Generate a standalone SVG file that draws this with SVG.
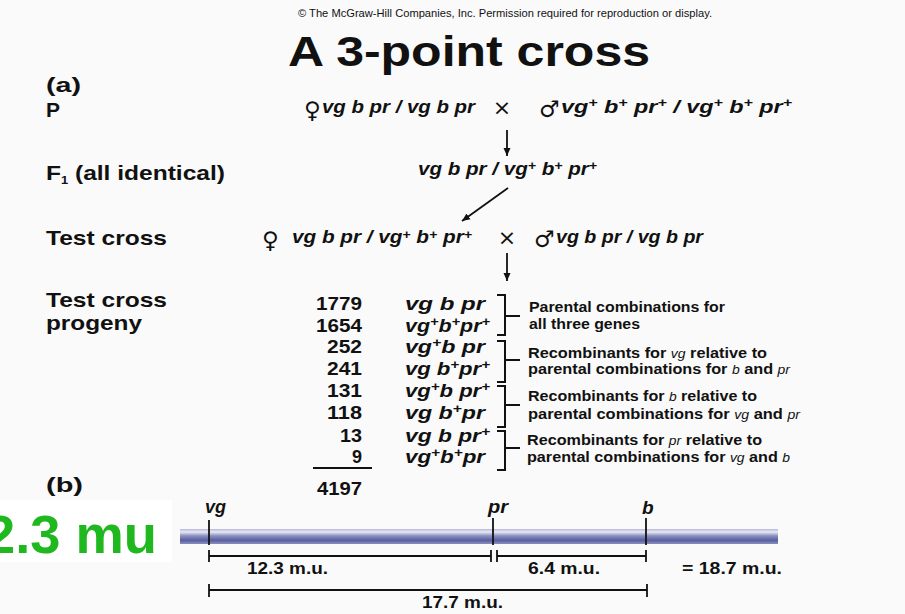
<svg xmlns="http://www.w3.org/2000/svg" width="905" height="614" viewBox="0 0 905 614">
<defs>
<style>
.t{font-family:"Liberation Sans",Arial,sans-serif;fill:#111;}
.b{font-weight:bold;}
.lab{font-family:"Liberation Sans",Arial,sans-serif;font-weight:bold;font-size:21px;fill:#111;}
.gt{font-family:"Liberation Sans",Arial,sans-serif;font-weight:bold;font-style:italic;font-size:19px;fill:#111;}
.num{font-family:"Liberation Sans",Arial,sans-serif;font-weight:bold;font-size:18px;fill:#111;text-anchor:end;}
.note{font-family:"Liberation Sans",Arial,sans-serif;font-weight:bold;font-size:14px;fill:#111;}
.gi{font-style:italic;font-weight:normal;font-size:12px;}
.sym{font-family:"DejaVu Sans",sans-serif;font-size:23px;fill:#111;}
.x{font-family:"DejaVu Sans",sans-serif;font-size:22px;fill:#111;text-anchor:middle;}
.ln{stroke:#111;stroke-width:1.8;fill:none;}
.br{stroke:#111;stroke-width:2;fill:none;}
.mu{font-family:"Liberation Sans",Arial,sans-serif;font-weight:bold;font-size:16px;fill:#111;}
</style>
<marker id="ah" markerWidth="8" markerHeight="8" refX="8" refY="4" orient="auto" markerUnits="userSpaceOnUse">
<path d="M0,0.5 L8,4 L0,7.5 z" fill="#111"/>
</marker>
<linearGradient id="chr" x1="0" y1="0" x2="0" y2="1">
<stop offset="0" stop-color="#b4b8da"/>
<stop offset="0.2" stop-color="#e8e9f4"/>
<stop offset="0.45" stop-color="#8c92c2"/>
<stop offset="0.75" stop-color="#585e9c"/>
<stop offset="1" stop-color="#8a90c0"/>
</linearGradient>
</defs>
<rect width="905" height="614" fill="#fafafa"/>
<rect x="0" y="500" width="172" height="62" fill="#ffffff"/>

<g id="header">
<text class="t" x="298" y="17" font-size="11" textLength="414" lengthAdjust="spacingAndGlyphs">© The McGraw-Hill Companies, Inc.  Permission required for reproduction or display.</text>
<text class="t b" x="288" y="66" font-size="42" textLength="362" lengthAdjust="spacingAndGlyphs">A 3-point cross</text>
</g>

<g id="row-labels">
<text class="lab" x="46" y="92" textLength="35" lengthAdjust="spacingAndGlyphs">(a)</text>
<text class="lab" x="46" y="117">P</text>
<text class="lab" x="46" y="180" textLength="179" lengthAdjust="spacingAndGlyphs">F<tspan font-size="11" dy="4">1</tspan><tspan dy="-4"> (all identical)</tspan></text>
<text class="lab" x="46" y="245" textLength="121" lengthAdjust="spacingAndGlyphs">Test cross</text>
<text class="lab" x="46" y="307" textLength="121" lengthAdjust="spacingAndGlyphs">Test cross</text>
<text class="lab" x="46" y="330" textLength="96" lengthAdjust="spacingAndGlyphs">progeny</text>
<text class="lab" x="46" y="492" textLength="37" lengthAdjust="spacingAndGlyphs">(b)</text>
</g>

<g id="parents">
<text class="sym" x="304" y="118">♀</text>
<text class="gt" x="322" y="113" textLength="153" lengthAdjust="spacingAndGlyphs">vg b pr / vg b pr</text>
<text class="x" x="502" y="115">×</text>
<text class="sym" x="539" y="117">♂</text>
<text class="gt" x="561" y="113" textLength="231" lengthAdjust="spacingAndGlyphs">vg<tspan font-size="13" dy="-6">+</tspan><tspan dy="6"> b</tspan><tspan font-size="13" dy="-6">+</tspan><tspan dy="6"> pr</tspan><tspan font-size="13" dy="-6">+</tspan><tspan dy="6"> / vg</tspan><tspan font-size="13" dy="-6">+</tspan><tspan dy="6"> b</tspan><tspan font-size="13" dy="-6">+</tspan><tspan dy="6"> pr</tspan><tspan font-size="13" dy="-6">+</tspan></text>
</g>

<g id="f1">
<text class="gt" x="418" y="175" textLength="179" lengthAdjust="spacingAndGlyphs">vg b pr / vg<tspan font-size="13" dy="-5">+</tspan><tspan dy="5"> b</tspan><tspan font-size="13" dy="-5">+</tspan><tspan dy="5"> pr</tspan><tspan font-size="13" dy="-5">+</tspan></text>
</g>

<g id="testcross">
<text class="sym" x="262" y="248">♀</text>
<text class="gt" x="292" y="243" textLength="180" lengthAdjust="spacingAndGlyphs">vg b pr / vg<tspan font-size="13" dy="-4">+</tspan><tspan dy="4"> b</tspan><tspan font-size="13" dy="-4">+</tspan><tspan dy="4"> pr</tspan><tspan font-size="13" dy="-4">+</tspan></text>
<text class="x" x="507" y="245">×</text>
<text class="sym" x="534" y="247">♂</text>
<text class="gt" x="556" y="243" textLength="147" lengthAdjust="spacingAndGlyphs">vg b pr / vg b pr</text>
</g>

<g id="connectors">
<line class="ln" x1="507" y1="130" x2="507" y2="156" marker-end="url(#ah)"/>
<line class="ln" x1="508" y1="188" x2="462" y2="221" marker-end="url(#ah)"/>
<line class="ln" x1="507" y1="253" x2="507" y2="281" marker-end="url(#ah)"/>
</g>

<g id="progeny">
<text class="num" x="362" y="310" textLength="46" lengthAdjust="spacingAndGlyphs">1779</text>
<text class="num" x="362" y="332" textLength="46" lengthAdjust="spacingAndGlyphs">1654</text>
<text class="num" x="362" y="353" textLength="35" lengthAdjust="spacingAndGlyphs">252</text>
<text class="num" x="362" y="375" textLength="35" lengthAdjust="spacingAndGlyphs">241</text>
<text class="num" x="362" y="397" textLength="35" lengthAdjust="spacingAndGlyphs">131</text>
<text class="num" x="362" y="419" textLength="35" lengthAdjust="spacingAndGlyphs">118</text>
<text class="num" x="362" y="442" textLength="22" lengthAdjust="spacingAndGlyphs">13</text>
<text class="num" x="362" y="463">9</text>
<line class="ln" x1="313" y1="468" x2="372" y2="468"/>
<text class="num" x="362" y="495" textLength="45" lengthAdjust="spacingAndGlyphs">4197</text>

<text class="gt" x="405" y="310" textLength="80" lengthAdjust="spacingAndGlyphs">vg  b  pr</text>
<text class="gt" x="405" y="332" textLength="85" lengthAdjust="spacingAndGlyphs">vg<tspan font-size="13" dy="-6">+</tspan><tspan dy="6">b</tspan><tspan font-size="13" dy="-6">+</tspan><tspan dy="6">pr</tspan><tspan font-size="13" dy="-6">+</tspan></text>
<text class="gt" x="405" y="353" textLength="80" lengthAdjust="spacingAndGlyphs">vg<tspan font-size="13" dy="-6">+</tspan><tspan dy="6">b  pr</tspan></text>
<text class="gt" x="405" y="375" textLength="85" lengthAdjust="spacingAndGlyphs">vg  b<tspan font-size="13" dy="-6">+</tspan><tspan dy="6">pr</tspan><tspan font-size="13" dy="-6">+</tspan></text>
<text class="gt" x="405" y="397" textLength="85" lengthAdjust="spacingAndGlyphs">vg<tspan font-size="13" dy="-6">+</tspan><tspan dy="6">b  pr</tspan><tspan font-size="13" dy="-6">+</tspan></text>
<text class="gt" x="405" y="419" textLength="80" lengthAdjust="spacingAndGlyphs">vg  b<tspan font-size="13" dy="-6">+</tspan><tspan dy="6">pr</tspan></text>
<text class="gt" x="405" y="442" textLength="85" lengthAdjust="spacingAndGlyphs">vg  b  pr<tspan font-size="13" dy="-6">+</tspan></text>
<text class="gt" x="405" y="463" textLength="80" lengthAdjust="spacingAndGlyphs">vg<tspan font-size="13" dy="-6">+</tspan><tspan dy="6">b</tspan><tspan font-size="13" dy="-6">+</tspan><tspan dy="6">pr</tspan></text>
</g>

<g id="brackets">
<path class="br" d="M497,295 H505 V335 H497 M505,316 H520"/>
<path class="br" d="M497,341 H505 V382 H497 M505,360 H520"/>
<path class="br" d="M497,386 H505 V427 H497 M505,405 H520"/>
<path class="br" d="M497,431 H505 V470 H497 M505,448 H520"/>
</g>

<g id="bracket-notes">
<text class="note" x="529" y="312" textLength="196" lengthAdjust="spacingAndGlyphs">Parental combinations for</text>
<text class="note" x="529" y="329" textLength="111" lengthAdjust="spacingAndGlyphs">all three genes</text>
<text class="note" x="528" y="358" textLength="239" lengthAdjust="spacingAndGlyphs">Recombinants for <tspan class="gi">vg</tspan> relative to</text>
<text class="note" x="528" y="374" textLength="262" lengthAdjust="spacingAndGlyphs">parental combinations for <tspan class="gi">b</tspan> and <tspan class="gi">pr</tspan></text>
<text class="note" x="528" y="401" textLength="229" lengthAdjust="spacingAndGlyphs">Recombinants for <tspan class="gi">b</tspan> relative to</text>
<text class="note" x="528" y="419" textLength="272" lengthAdjust="spacingAndGlyphs">parental combinations for <tspan class="gi">vg</tspan>  and <tspan class="gi">pr</tspan></text>
<text class="note" x="527" y="445" textLength="235" lengthAdjust="spacingAndGlyphs">Recombinants for <tspan class="gi">pr</tspan> relative to</text>
<text class="note" x="527" y="462" textLength="263" lengthAdjust="spacingAndGlyphs">parental combinations for <tspan class="gi">vg</tspan>  and <tspan class="gi">b</tspan></text>
</g>

<g id="map">
<rect x="180" y="529" width="598" height="15" fill="url(#chr)"/>
<line class="ln" x1="209" y1="520" x2="209" y2="545"/>
<line class="ln" x1="493" y1="518" x2="493" y2="545"/>
<line class="ln" x1="646" y1="518" x2="646" y2="545"/>
<text class="gt" x="205" y="513" font-size="16" textLength="21" lengthAdjust="spacingAndGlyphs">vg</text>
<text class="gt" x="488" y="513" font-size="16" textLength="20" lengthAdjust="spacingAndGlyphs">pr</text>
<text class="gt" x="642" y="514" font-size="16">b</text>

<path class="ln" d="M209,550 V562 M209,556 H491 M491,550 V562 M497,550 V562 M497,556 H646 M646,550 V562"/>
<path class="ln" d="M209,584 V597 M209,590 H647 M647,584 V597"/>
<text class="mu" x="247" y="574" textLength="81" lengthAdjust="spacingAndGlyphs">12.3 m.u.</text>
<text class="mu" x="528" y="574" textLength="72" lengthAdjust="spacingAndGlyphs">6.4 m.u.</text>
<text class="mu" x="682" y="574" textLength="100" lengthAdjust="spacingAndGlyphs">= 18.7 m.u.</text>
<text class="mu" x="422" y="608" textLength="81" lengthAdjust="spacingAndGlyphs">17.7 m.u.</text>
</g>

<g id="annotation">
<text x="157" y="553" text-anchor="end" font-family="'Liberation Sans',Arial,sans-serif" font-weight="bold" font-size="54" fill="#1fb81f" textLength="172" lengthAdjust="spacingAndGlyphs">2.3 mu</text>
</g>
</svg>
